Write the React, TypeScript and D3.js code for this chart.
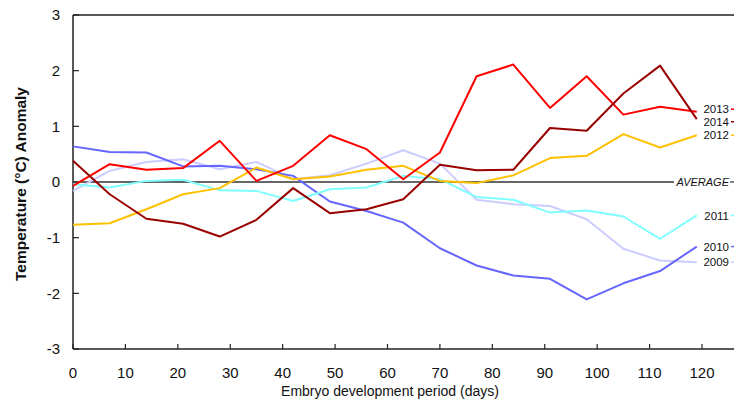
import React from 'react'
import * as d3 from 'd3'

const days = d3.range(0, 120, 7) // 0, 7, ... 119

const years = ['2009', '2010', '2011', '2012', '2013', '2014']
const colors = ['#ccccff', '#6666ff', '#80ffff', '#ffc000', '#ff0000', '#990000']

const y2009 = [-0.16, 0.2, 0.36, 0.41, 0.23, 0.36, 0.05, 0.12, 0.33, 0.57, 0.33, -0.32, -0.4, -0.43, -0.67, -1.2, -1.41, -1.44]
const y2010 = [0.64, 0.54, 0.53, 0.28, 0.29, 0.23, 0.11, -0.35, -0.52, -0.73, -1.19, -1.5, -1.68, -1.74, -2.11, -1.82, -1.6, -1.16]
const y2011 = [-0.04, -0.1, 0.02, 0.04, -0.15, -0.16, -0.34, -0.13, -0.1, 0.11, 0.05, -0.27, -0.32, -0.55, -0.51, -0.62, -1.02, -0.6]
const y2012 = [-0.77, -0.74, -0.49, -0.22, -0.11, 0.26, 0.05, 0.1, 0.22, 0.29, 0.02, -0.02, 0.12, 0.43, 0.47, 0.86, 0.62, 0.84]
const y2013 = [-0.07, 0.32, 0.22, 0.25, 0.74, 0.02, 0.29, 0.84, 0.59, 0.05, 0.53, 1.9, 2.11, 1.33, 1.9, 1.21, 1.35, 1.26]
const y2014 = [0.38, -0.22, -0.66, -0.75, -0.98, -0.68, -0.11, -0.56, -0.49, -0.31, 0.31, 0.21, 0.22, 0.97, 0.92, 1.59, 2.09, 1.13]

const xTicks = d3.range(0, 121, 10)
const yTicks = [-3, -2, -1, 0, 1, 2, 3]

const W = 734
const H = 402
const FONT = 'Liberation Sans, Arial, sans-serif'

export default function App() {
  const series = [y2009, y2010, y2011, y2012, y2013, y2014]

  const x = d3.scaleLinear().domain([0, 120]).range([73, 702])
  const y = d3.scaleLinear().domain([-3, 3]).range([349, 15])

  const line = d3
    .line<number>()
    .x((d, i) => x(days[i]))
    .y((d) => y(d))

  // end labels, pushed apart so they don't overlap
  const labels = years
    .map((name, i) => ({ name, color: colors[i], ly: y(series[i][series[i].length - 1]) }))
    .sort((a, b) => a.ly - b.ly)
  for (let k = 1; k < labels.length; k++) {
    const gap = labels[k].ly - labels[k - 1].ly
    if (gap < 12.5) {
      const push = (12.5 - gap) / 2
      labels[k - 1].ly -= push
      labels[k].ly += push
    }
  }

  return (
    <svg width={W} height={H} style={{ position: 'absolute', left: 0, top: 0 }} fontFamily={FONT}>
      <rect width={W} height={H} fill="#fff" />

      {/* frame */}
      <g stroke="#222" strokeWidth={1.5} fill="none">
        <line x1={x(0)} x2={W} y1={y(3)} y2={y(3)} />
        <line x1={x(0)} x2={W} y1={y(-3)} y2={y(-3)} />
        <line x1={x(0)} x2={x(0)} y1={y(3)} y2={y(-3)} />
      </g>

      {/* y axis */}
      {yTicks.map((t) => (
        <g key={'y' + t}>
          <line x1={x(0)} x2={x(0) + 6} y1={y(t)} y2={y(t)} stroke="#222" strokeWidth={1.2} />
          <text x={60} y={y(t)} dy="0.36em" textAnchor="end" fontSize={15} fill="#111">
            {t}
          </text>
        </g>
      ))}

      {/* x axis */}
      {xTicks.map((t) => (
        <g key={'x' + t}>
          <line x1={x(t)} x2={x(t)} y1={y(-3)} y2={y(-3) - 5} stroke="#222" strokeWidth={1.2} />
          <text x={x(t)} y={373} dy="0.36em" textAnchor="middle" fontSize={15} fill="#111">
            {t}
          </text>
        </g>
      ))}

      <text x={390} y={391} dy="0.36em" textAnchor="middle" fontSize={14} fill="#111">
        Embryo development period (days)
      </text>
      <text
        transform={`translate(20,${y(0) + 2}) rotate(-90)`}
        dy="0.36em"
        textAnchor="middle"
        fontSize={15.5}
        fontWeight="bold"
        fill="#111"
      >
        Temperature (°C) Anomaly
      </text>

      {/* average line */}
      <line x1={x(0)} x2={674} y1={y(0)} y2={y(0)} stroke="#333" strokeWidth={1.5} />
      <text x={729} y={y(0)} dy="0.36em" textAnchor="end" fontSize={11} fontStyle="italic" fill="#111">
        AVERAGE
      </text>
      <line x1={730} x2={740} y1={y(0)} y2={y(0)} stroke="#333" strokeWidth={1.2} />

      {/* series */}
      {series.map((s, i) => (
        <path key={years[i]} d={line(s) || ''} fill="none" stroke={colors[i]} strokeWidth={2} strokeLinejoin="round" />
      ))}

      {labels.map((l) => (
        <g key={'l' + l.name}>
          <text x={729} y={l.ly} dy="0.36em" textAnchor="end" fontSize={11.5} fill="#111">
            {l.name}
          </text>
          <line x1={731} x2={740} y1={l.ly} y2={l.ly} stroke={l.color} strokeWidth={1.5} />
        </g>
      ))}
    </svg>
  )
}
